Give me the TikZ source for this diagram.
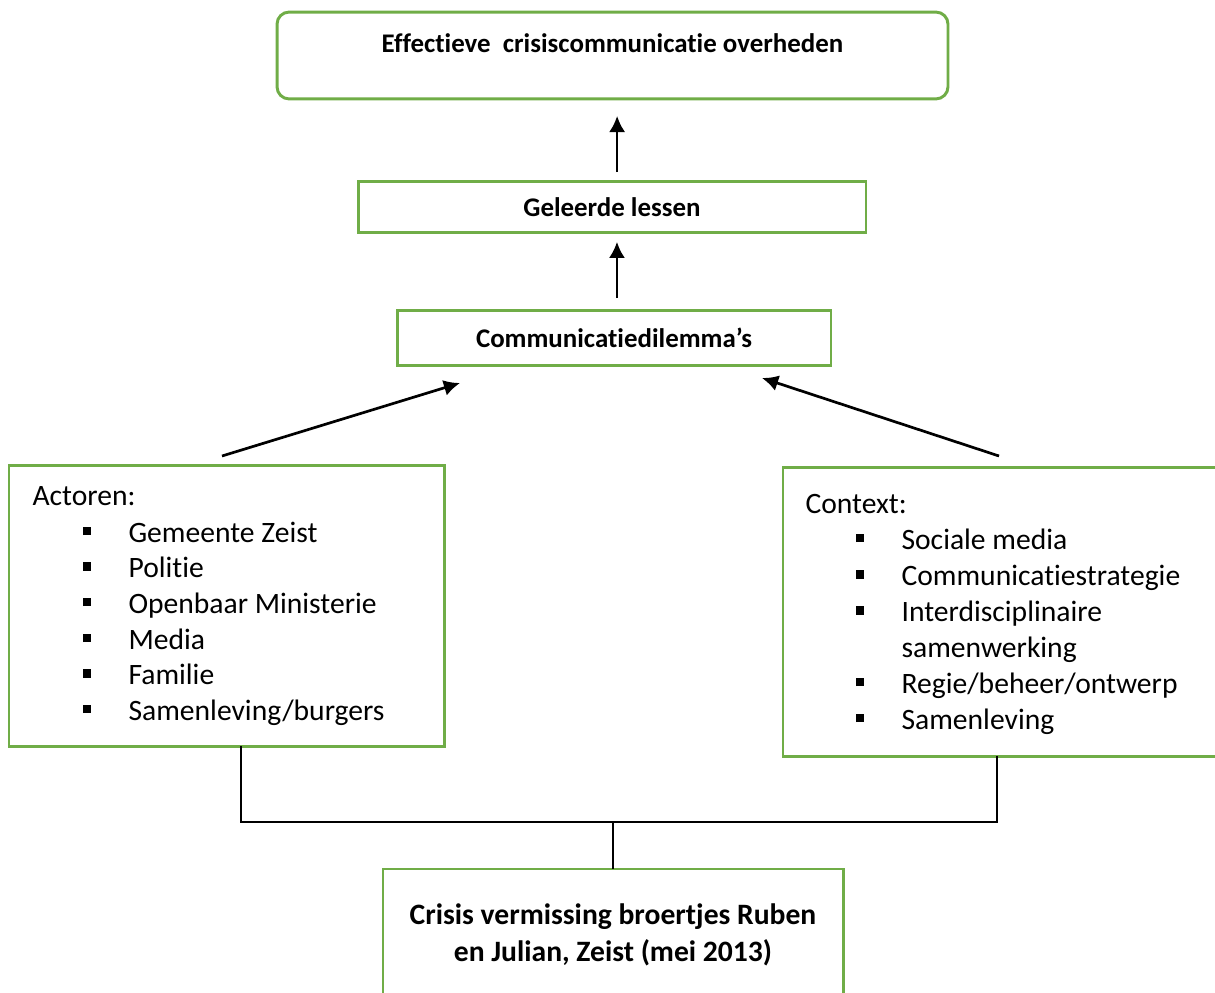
\documentclass[tikz,border=0pt]{standalone}
\usepackage{fontspec}
\setmainfont{Carlito}[Ligatures=NoCommon]
\usetikzlibrary{arrows.meta}
\definecolor{boxgreen}{RGB}{112,173,71}
\newcommand{\sqbul}{\makebox[17.1pt][l]{\rule[2.6pt]{3pt}{3pt}}}

\begin{document}
\begin{tikzpicture}[x=0.3717pt,y=-0.3717pt,
  box/.style={draw=boxgreen,line width=1.1pt,inner sep=0pt,outer sep=0pt},
  arr/.style={-{Latex[length=6pt,width=6pt]},line width=1pt},
  item/.style={anchor=base west,inner sep=0pt,font=\fontsize{11}{13.4}\selectfont},
  hd/.style={font=\fontsize{10}{12}\selectfont\bfseries}]
\useasboundingbox (0,0) rectangle (1215,993);

\node[box,hd,rounded corners=4.5pt,minimum width=249.4pt,minimum height=32.3pt,text height=7pt,text depth=8.9pt] (top) at (612.5,55.5) {Effectieve\ \ crisiscommunicatie overheden};
\node[box,hd,minimum width=188.8pt,minimum height=19.3pt] (lessen) at (612,207) {Geleerde lessen};
\node[box,hd,minimum width=161.3pt,minimum height=20.1pt] (dil) at (614,338) {Communicatiedilemma’s};

\node[box,minimum width=161.7pt,minimum height=104.1pt] (act) at (226.5,606) {};
\node[item] (acth) at (32,505) {Actoren:};
\node[item] (act1) at (82,542) {\sqbul Gemeente Zeist};
\node[item] (act2) at (82,577.5) {\sqbul Politie};
\node[item] (act3) at (82,613) {\sqbul Openbaar Ministerie};
\node[item] (act4) at (82,649) {\sqbul Media};
\node[item] (act5) at (82,684.5) {\sqbul Familie};
\node[item] (act6) at (82,720) {\sqbul Samenleving/burgers};

\node[box,minimum width=164.3pt,minimum height=107.1pt] (ctx) at (1004,612) {};
\node[item] (ctxh) at (805,513) {Context:};
\node[item] (ctx1) at (855,549) {\sqbul Sociale media};
\node[item] (ctx2) at (855,585.5) {\sqbul Communicatiestrategie};
\node[item] (ctx3) at (855,621.5) {\sqbul Interdisciplinaire};
\node[item] (ctx3b) at (901,657.5) {samenwerking};
\node[item] (ctx4) at (855,693) {\sqbul Regie/beheer/ontwerp};
\node[item] (ctx5) at (855,729) {\sqbul Samenleving};

\node[box,align=center,font=\fontsize{11}{13.7}\selectfont\bfseries,minimum width=171pt,minimum height=48.7pt] (crisis) at (613,934.5) {Crisis vermissing broertjes Ruben\\en Julian, Zeist (mei 2013)};

\draw[arr,shorten <=3.3pt,shorten >=6.3pt] ([xshift=1.9pt]lessen.north) -- ([xshift=1.9pt]lessen.north |- top.south);
\draw[arr,shorten <=4.8pt,shorten >=3.3pt] ([xshift=1.1pt]dil.north) -- ([xshift=1.1pt]dil.north |- lessen.south);

\coordinate (la) at (222,456);
\coordinate (lb) at (460,383);
\coordinate (ra) at (999,456);
\coordinate (rb) at (762,378);
\draw[arr] (la) -- (lb);
\draw[arr] (ra) -- (rb);

\coordinate (j) at (613,822);
\draw[line width=0.5pt] ([xshift=5.4pt]act.south) |- (j) -| ([xshift=-2.6pt]ctx.south);
\draw[line width=0.8pt] (j) -- (crisis.north);

\end{tikzpicture}
\end{document}
